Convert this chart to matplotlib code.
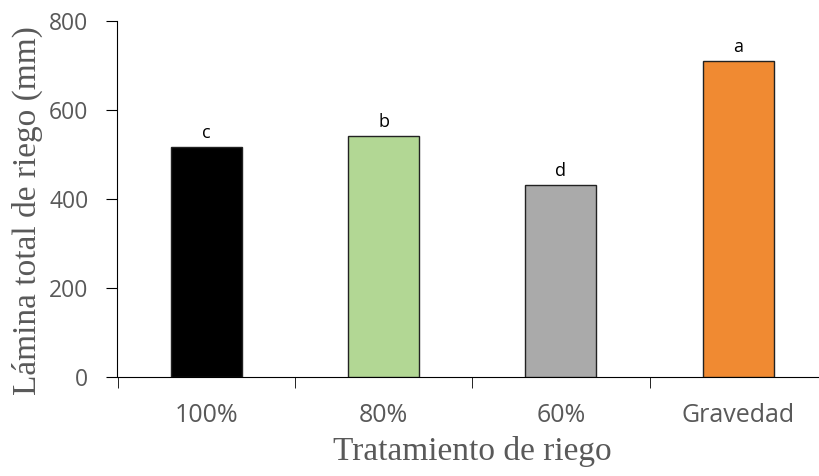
import numpy as np
import matplotlib.pyplot as plt

tratamientos = ['100%', '80%', '60%', 'Gravedad']
lamina = [517, 542, 432, 709]
letras = ['c', 'b', 'd', 'a']
colores = ['#000000', '#b2d794', '#aaaaaa', '#f08a32']

fig = plt.figure(figsize=(8.19, 4.76), dpi=100)
# the category axis runs a little past the right edge, as in the original
ax = fig.add_axes([117.5 / 819, 1 - 376.7 / 476, 709.5 / 819, 355.9 / 476])

x = np.arange(len(tratamientos))
ax.bar(x, lamina, width=0.4, color=colores, edgecolor='#222222', linewidth=1.0, zorder=3)

for xi, v, l in zip(x, lamina, letras):
    ax.text(xi, v + 11, l, ha='center', va='bottom', fontsize=13,
            family='Open Sans', color='black')

ax.set_xlim(-0.5, 3.5)
ax.set_ylim(0, 800)
ax.set_yticks([0, 200, 400, 600, 800])
ax.set_xticks(x)
ax.set_xticklabels(tratamientos)
ax.set_xticks(np.arange(-0.5, 4.0, 1.0), minor=True)
ax.tick_params(axis='x', which='major', length=0, pad=19)
ax.tick_params(axis='x', which='minor', length=8, direction='out', color='black')
ax.tick_params(axis='y', length=8, direction='out', color='black', pad=13)

for lab in ax.get_xticklabels() + ax.get_yticklabels():
    lab.set_family('Open Sans')
    lab.set_color('#595959')
for lab in ax.get_yticklabels():
    lab.set_fontsize(16.5)
for lab in ax.get_xticklabels():
    lab.set_fontsize(18)

ax.spines['top'].set_visible(False)
ax.spines['right'].set_visible(False)
ax.spines['left'].set_color('black')
ax.spines['bottom'].set_color('black')

ax.set_ylabel('Lámina total de riego (mm)', family='Liberation Serif', fontsize=24,
              color='#595959', labelpad=4)
ax.yaxis.label.set_y(0.466)
ax.set_xlabel('Tratamiento de riego', family='Liberation Serif', fontsize=24,
              color='#595959', labelpad=6)

fig.savefig('out.png', dpi=100)
